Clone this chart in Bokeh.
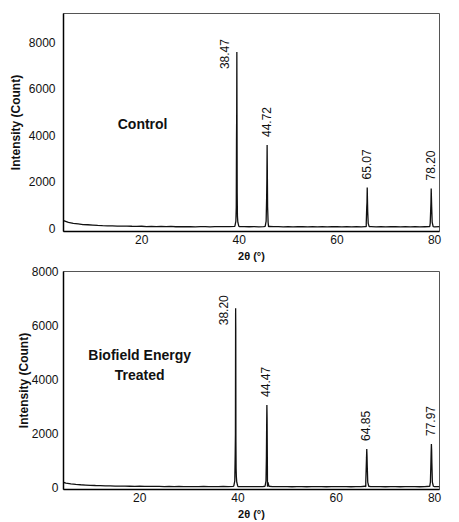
from bokeh.plotting import figure
from bokeh.layouts import column
from bokeh.models import ColumnDataSource, Label, FixedTicker
from bokeh.core.properties import value
from bokeh.embed import file_html
from bokeh.resources import INLINE

FONT = "Liberation Sans"

# ---------------- data ----------------
bg_x = list(range(4, 82))
top_bg_y = [320, 240, 200, 175, 150, 140, 125, 110, 100, 95, 90, 85, 80, 82, 75, 70,
            76, 64, 70, 60, 66, 58, 70, 55, 62, 54, 60, 50, 56, 62, 50, 56, 60, 58,
            62, 70, 64, 58, 55, 60, 52, 58, 50, 56, 60, 52, 58, 50, 55, 60, 50, 56,
            52, 58, 50, 55, 60, 52, 56, 50, 58, 52, 56, 60, 52, 55, 50, 58, 54, 50,
            56, 52, 58, 50, 55, 60, 52, 56]
bot_bg_y = [220, 170, 140, 120, 105, 95, 85, 78, 72, 66, 62, 58, 55, 52, 50, 48,
            50, 45, 48, 42, 46, 40, 44, 38, 42, 36, 40, 35, 38, 42, 36, 40, 38, 42,
            40, 44, 40, 38, 36, 40, 34, 38, 32, 36, 40, 34, 38, 32, 36, 40, 32, 36,
            34, 38, 32, 36, 40, 34, 36, 32, 38, 34, 36, 40, 34, 36, 32, 38, 34, 32,
            36, 34, 38, 32, 36, 40, 34, 36]

# peak profiles (x in degrees, y in counts)
top_peak_x = [39.1, 39.3, 39.38, 39.43, 39.47, 39.5, 39.53, 39.57, 39.62, 39.7, 39.9,
              45.3, 45.5, 45.6, 45.65, 45.7, 45.74, 45.8, 45.9, 46.1,
              65.8, 66.0, 66.1, 66.15, 66.2, 66.25, 66.3, 66.4, 66.6,
              78.9, 79.1, 79.2, 79.25, 79.3, 79.35, 79.4, 79.5, 79.7]
top_peak_y = [80, 300, 900, 3800, 5000, 7570, 4900, 1500, 500, 250, 80,
              70, 300, 1300, 2100, 3570, 2500, 900, 250, 70,
              60, 200, 900, 1100, 1745, 1200, 700, 200, 60,
              60, 200, 800, 1100, 1700, 1300, 900, 250, 60]
bot_peak_x = [39.15, 39.35, 39.43, 39.48, 39.52, 39.55, 39.58, 39.62, 39.67, 39.75, 39.95,
              45.5, 45.7, 45.78, 45.83, 45.88, 45.92, 45.98, 46.08, 46.3,
              65.8, 66.0, 66.1, 66.15, 66.2, 66.25, 66.3, 66.4, 66.6,
              78.95, 79.15, 79.25, 79.3, 79.35, 79.4, 79.45, 79.55, 79.75]
bot_peak_y = [60, 250, 1200, 2000, 6640, 5900, 1700, 700, 400, 200, 60,
              50, 250, 1100, 2200, 3060, 2600, 900, 200, 50,
              50, 200, 800, 1100, 1430, 1200, 800, 200, 50,
              50, 200, 900, 1300, 1615, 1400, 900, 200, 50]

top_peak_pos = [39.5, 45.7, 66.2, 79.3]
top_peak_h = [7570, 3570, 1745, 1700]
top_peak_lbl = ["38.47", "44.72", "65.07", "78.20"]
bot_peak_pos = [39.55, 45.88, 66.2, 79.35]
bot_peak_h = [6640, 3060, 1430, 1615]
bot_peak_lbl = ["38.20", "44.47", "64.85", "77.97"]

x_ticks = [20, 40, 60, 80]
y_ticks = [0, 2000, 4000, 6000, 8000]


def merged(xa, ya, xb, yb):
    pts = sorted(zip(list(xa) + list(xb), list(ya) + list(yb)))
    return [p[0] for p in pts], [p[1] for p in pts]


def make_panel(bg_y, pk_x, pk_y, pos, h, lbl, xr, yr, height, borders,
               ylab_standoff, tick_standoff, note, note_xy, tall_limit):
    p = figure(width=443, height=height, x_range=xr, y_range=yr,
               output_backend="svg", toolbar_location=None,
               min_border_left=borders[0], min_border_right=borders[1],
               min_border_top=borders[2], min_border_bottom=borders[3])
    p.grid.visible = False
    p.outline_line_color = "#555555"
    p.outline_line_width = 1
    p.background_fill_color = "white"
    p.border_fill_color = "white"

    xs, ys = merged(bg_x, bg_y, pk_x, pk_y)
    p.line(xs, ys, line_color="#111111", line_width=1.3)

    # peak labels
    lx, ly, xo, yo = [], [], [], []
    for ppos, ph in zip(pos, h):
        lx.append(ppos)
        ly.append(ph)
        if ph > tall_limit:
            xo.append(-12)
            yo.append(17)
        else:
            xo.append(-1)
            yo.append(-8)
    src = ColumnDataSource(dict(x=lx, y=ly, t=lbl, xo=xo, yo=yo))
    p.text(x="x", y="y", text="t", x_offset="xo", y_offset="yo", source=src,
           angle=1.5708, text_align="left", text_baseline="middle",
           text_font=value(FONT), text_font_size="12px", text_color="#111111")

    p.add_layout(Label(x=note_xy[0], y=note_xy[1], text=note, text_align="center",
                       text_baseline="middle", text_font=FONT, text_font_size="14px",
                       text_font_style="bold", text_color="#111111",
                       text_line_height=1.25))

    for ax in (p.xaxis[0], p.yaxis[0]):
        ax.axis_line_color = "black"
        ax.axis_line_width = 1.5
        ax.major_tick_line_color = None
        ax.minor_tick_line_color = None
        ax.major_tick_out = 0
        ax.major_tick_in = 0
        ax.major_label_text_font = FONT
        ax.major_label_text_font_size = "12px"
        ax.major_label_text_color = "#111111"
        ax.axis_label_text_font = FONT
        ax.axis_label_text_font_style = "bold"
        ax.axis_label_text_color = "#111111"
    p.xaxis.ticker = FixedTicker(ticks=x_ticks)
    p.yaxis.ticker = FixedTicker(ticks=y_ticks)
    p.xaxis.axis_label = "2\u03b8 (\u00b0)"
    p.xaxis.axis_label_text_font_size = "11px"
    p.xaxis.major_label_standoff = 3
    p.xaxis.axis_label_standoff = 3
    p.yaxis.axis_label = "Intensity (Count)"
    p.yaxis.axis_label_text_font_size = "12px"
    p.yaxis.major_label_standoff = tick_standoff
    p.yaxis.axis_label_standoff = ylab_standoff
    return p


top = make_panel(top_bg_y, top_peak_x, top_peak_y, top_peak_pos, top_peak_h,
                 top_peak_lbl, (4, 81), (-150, 9230), 264, (60, 4, 13, 30),
                 3, 8, "Control", (20.2, 4470), 6500)
bot = make_panel(bot_bg_y, bot_peak_x, bot_peak_y, bot_peak_pos, bot_peak_h,
                 bot_peak_lbl, (4.5, 81), (-70, 8000), 258, (63, 2, 7, 31),
                 -2, 5, "Biofield Energy\nTreated", (20.0, 4550), 5500)

layout = column(top, bot, spacing=0)
open("out.html", "w").write(file_html(layout, INLINE))
